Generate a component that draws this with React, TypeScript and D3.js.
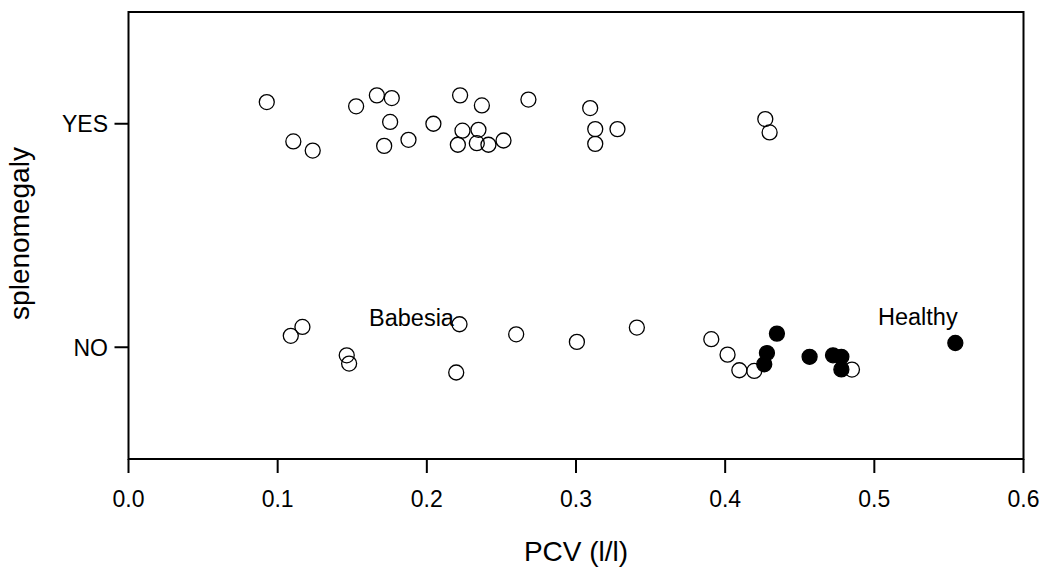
import React from "react";
import * as d3 from "d3";

// PCV values (l/l) and vertical jitter offsets (in category units)
const yesPCV = [0.0927, 0.1105, 0.1235, 0.1526, 0.1665, 0.1765, 0.1754, 0.1714, 0.1877, 0.2044, 0.2223, 0.2369, 0.2681, 0.2239, 0.2346, 0.2208, 0.2335, 0.2413, 0.2514, 0.3095, 0.3129, 0.3129, 0.3278, 0.4269, 0.4298];
const yesJitter = [0.097, -0.079, -0.12, 0.078, 0.127, 0.115, 0.008, -0.099, -0.072, 0.0, 0.127, 0.082, 0.108, -0.031, -0.027, -0.094, -0.087, -0.094, -0.075, 0.07, -0.024, -0.09, -0.024, 0.021, -0.039];

const noPCV = [0.1088, 0.1166, 0.1463, 0.1479, 0.2219, 0.2197, 0.2599, 0.3006, 0.3408, 0.3907, 0.4016, 0.4095, 0.4195, 0.485];
const noJitter = [0.051, 0.091, -0.036, -0.073, 0.103, -0.113, 0.058, 0.024, 0.088, 0.036, -0.033, -0.103, -0.106, -0.1];

const healthyPCV = [0.4262, 0.428, 0.4347, 0.4566, 0.4723, 0.4779, 0.4779, 0.5543];
const healthyJitter = [-0.076, -0.026, 0.061, -0.043, -0.036, -0.043, -0.099, 0.019];

const categories = ["NO", "YES"];
const xTicks = [0, 0.1, 0.2, 0.3, 0.4, 0.5, 0.6];

const W = 1047;
const H = 568;
const FONT = "'Liberation Sans', Arial, Helvetica, sans-serif";

export default function App() {
  const x = d3.scaleLinear().domain([0, 0.6]).range([128.5, 1023.5]);
  const y = d3.scaleLinear().domain([-0.5, 1.5]).range([459, 12]);
  const fmt = d3.format(".1f");
  const r = 7.5;

  return (
    <svg width={W} height={H} style={{ position: "absolute", left: 0, top: 0, background: "#fff" }} fontFamily={FONT}>
      <rect x={x(0)} y={y(1.5)} width={x(0.6) - x(0)} height={y(-0.5) - y(1.5)} fill="none" stroke="#000" strokeWidth={2} />
      {xTicks.map((t) => (
        <g key={t}>
          <line x1={x(t)} x2={x(t)} y1={y(-0.5)} y2={y(-0.5) + 14} stroke="#000" strokeWidth={2} />
          <text x={x(t)} y={507} textAnchor="middle" fontSize={23}>{fmt(t)}</text>
        </g>
      ))}
      {categories.map((c, i) => (
        <g key={c}>
          <line x1={x(0) - 14} x2={x(0)} y1={y(i)} y2={y(i)} stroke="#000" strokeWidth={2} />
          <text x={108} y={y(i)} dy="0.36em" textAnchor="end" fontSize={23}>{c}</text>
        </g>
      ))}
      <text x={(x(0) + x(0.6)) / 2} y={561} textAnchor="middle" fontSize={28}>PCV (l/l)</text>
      <text transform={`translate(29,${(y(-0.5) + y(1.5)) / 2 - 2}) rotate(-90)`} textAnchor="middle" fontSize={28}>splenomegaly</text>

      {yesPCV.map((v, i) => (
        <circle key={"y" + i} cx={x(v)} cy={y(1 + yesJitter[i])} r={r} fill="none" stroke="#000" strokeWidth={1.3} />
      ))}
      {noPCV.map((v, i) => (
        <circle key={"n" + i} cx={x(v)} cy={y(0 + noJitter[i])} r={r} fill="none" stroke="#000" strokeWidth={1.3} />
      ))}
      {healthyPCV.map((v, i) => (
        <circle key={"h" + i} cx={x(v)} cy={y(0 + healthyJitter[i])} r={r} fill="#000" stroke="#000" strokeWidth={1.3} />
      ))}

      <text x={369} y={326} fontSize={23.5}>Babesia</text>
      <text x={878} y={325} fontSize={23.5}>Healthy</text>
    </svg>
  );
}
